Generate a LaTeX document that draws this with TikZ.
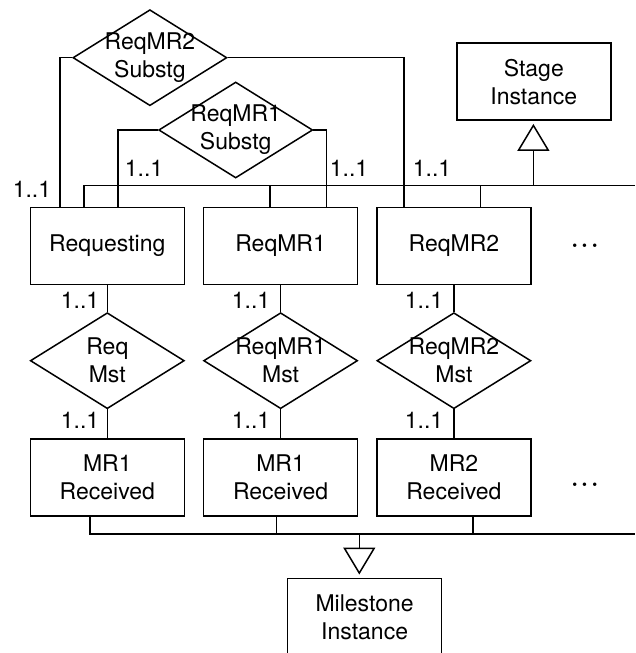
\documentclass[tikz,border=0pt]{standalone}
\usepackage{fontspec}
\setmainfont{TeX Gyre Heros}
\usetikzlibrary{arrows.meta,shapes.geometric}
\begin{document}
\begin{tikzpicture}[x=1pt,y=-1pt,line width=1.5pt,
  every node/.style={font=\fontsize{23}{28}\selectfont, inner sep=0pt},
  ent/.style={draw, rectangle, minimum width=154pt, minimum height=77pt, align=center},
  rel/.style={draw, diamond, minimum width=154pt, minimum height=96pt},
  reltxt/.style={align=center},
  card/.style={},
  more/.style={font=\fontsize{23}{28}\selectfont\bfseries},
  gen/.style={-{Triangle[open,length=27pt,width=32pt]}, shorten >=3pt}]
\useasboundingbox (0,0) rectangle (635,653);
% row 1 stage boxes
\node[ent] (req)  at (107.3,245.8) {Requesting};
\node[ent] (rmr1) at (280.6,245.8) {ReqMR1};
\node[ent] (rmr2) at (453.9,245.8) {ReqMR2};
% milestone diamonds
\node[rel] (dm1) at (107.3,360.7) {};
\node[rel] (dm2) at (280.6,360.7) {};
\node[rel] (dm3) at (453.9,360.7) {};
\node[reltxt] (dm1t) at (dm1) {Req\\Mst};
\node[reltxt] (dm2t) at (dm2) {ReqMR1\\Mst};
\node[reltxt] (dm3t) at (dm3) {ReqMR2\\Mst};
% row 2 milestone boxes
\node[ent] (rc1) at (107.3,477.7) {MR1\\Received};
\node[ent] (rc2) at (280.6,477.7) {MR1\\Received};
\node[ent] (rc3) at (453.9,477.7) {MR2\\Received};
% super types
\node[ent] (si) at (533.8,81.7) {Stage\\Instance};
\node[ent] (ms) at (364.6,616.8) {Milestone\\Instance};
% substage diamonds
\node[rel] (ds2) at (149.9,57.7) {};
\node[reltxt] (ds2t) at (ds2) {ReqMR2\\Substg};
\node[rel] (ds1) at (235.7,130.0) {};
\node[reltxt] (ds1t) at (ds1) {ReqMR1\\Substg};
% ellipses
\node[more] (dots1) at (584.7,247.3) {·\hspace{3.6pt}·\hspace{3.6pt}·};
\node[more] (dots2) at (584.7,486.7) {·\hspace{3.6pt}·\hspace{3.6pt}·};
% helper coordinates
\coordinate (a1) at (60,0);
\coordinate (a2) at (403.8,0);
\coordinate (a3) at (117.9,0);
\coordinate (a4) at (326.4,0);
\coordinate (tbL) at (84,185.7);
\coordinate (tbR) at (635,185.7);
\coordinate (tb2) at (270,185.7);
\coordinate (tb3) at (480.3,185.7);
\coordinate (tbS) at (533.4,185.7);
\coordinate (bbL) at (89.9,534);
\coordinate (bbR) at (635,534);
\coordinate (bb2) at (276.6,534);
\coordinate (bb3) at (473,534);
\coordinate (bbM) at (359.3,534);
% substage relations
\draw (ds2.west) -| (a1 |- req.north);
\draw (ds2.east) -| (a2 |- rmr2.north);
\draw (ds1.west) -| (a3 |- req.north);
\draw (ds1.east) -| (a4 |- rmr1.north);
% stage generalisation
\draw (req.north -| tbL) -- (tbL) -- (tbR);
\draw (tb2) -- (tb2 |- rmr1.north);
\draw (tb3) -- (tb3 |- rmr2.north);
\draw[gen] (tbS) -- (tbS |- si.south);
% milestone relations
\draw (req.south) -- (dm1.north) (dm1.south) -- (rc1.north);
\draw (rmr1.south) -- (dm2.north) (dm2.south) -- (rc2.north);
\draw (rmr2.south) -- (dm3.north) (dm3.south) -- (rc3.north);
% milestone generalisation
\draw (rc1.south -| bbL) -- (bbL) -- (bbR);
\draw (bb2) -- (bb2 |- rc2.south);
\draw (bb3) -- (bb3 |- rc3.south);
\draw[gen] (bbM) -- (bbM |- ms.north);
% cardinalities
\node[card] (c1) at (32,189) {1..1};
\node[card] (c2) at (144,168) {1..1};
\node[card] (c3) at (349,168) {1..1};
\node[card] (c4) at (432,168) {1..1};
\node[card] (c5) at (80,300) {1..1};
\node[card] (c6) at (251,300) {1..1};
\node[card] (c7) at (424,300) {1..1};
\node[card] (c8) at (80,420.7) {1..1};
\node[card] (c9) at (251,420.7) {1..1};
\node[card] (c10) at (424,420.7) {1..1};
\end{tikzpicture}
\end{document}
